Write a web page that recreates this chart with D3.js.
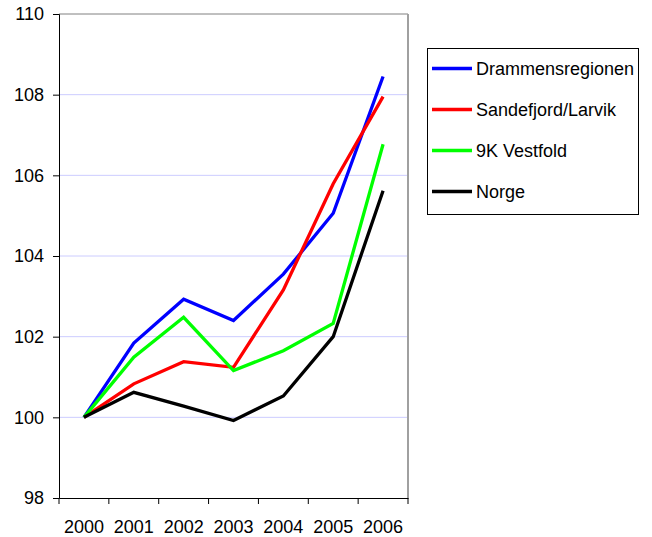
<!DOCTYPE html>
<html>
<head>
<meta charset="utf-8">
<script src="https://cdn.jsdelivr.net/npm/d3@7"></script>
<style>
  body { margin: 0; background: #fff; }
  svg { font-family: "Liberation Sans", Arial, sans-serif; }
</style>
</head>
<body>
<div id="vis-container"></div>
<script>
// Data
const years = ["2000", "2001", "2002", "2003", "2004", "2005", "2006"];
const drammen = [100, 101.84, 102.93, 102.40, 103.55, 105.06, 108.45];
const sandefjord = [100, 100.83, 101.38, 101.24, 103.16, 105.79, 107.95];
const vestfold = [100, 101.49, 102.48, 101.16, 101.65, 102.33, 106.77];
const norge = [100, 100.62, 100.28, 99.92, 100.53, 102.0, 105.62];
const seriesNames = ["Drammensregionen", "Sandefjord/Larvik", "9K Vestfold", "Norge"];
const yTicks = [98, 100, 102, 104, 106, 108, 110];

const series = [drammen, sandefjord, vestfold, norge];
const colors = ["#0000ff", "#ff0000", "#00ff00", "#000000"];

// Set margins and dimensions
const width = 652, height = 537;
const margin = { top: 14, right: 244, bottom: 39, left: 59 };
const fontSize = "18px";

const svg = d3.select("#vis-container")
  .append("svg")
  .attr("width", width)
  .attr("height", height);

const x = d3.scaleBand()
  .domain(years)
  .range([margin.left, width - margin.right]);

const y = d3.scaleLinear()
  .domain([98, 110])
  .range([height - margin.bottom, margin.top]);

// gridlines
svg.append("g")
  .selectAll("line")
  .data(yTicks.slice(1, -1))
  .enter().append("line")
  .attr("x1", margin.left).attr("x2", width - margin.right)
  .attr("y1", d => y(d)).attr("y2", d => y(d))
  .attr("stroke", "#ccccff").attr("stroke-width", 1);

// top and right border of plot area
svg.append("line")
  .attr("x1", margin.left).attr("x2", width - margin.right)
  .attr("y1", y(110)).attr("y2", y(110))
  .attr("stroke", "#808080");
svg.append("line")
  .attr("x1", width - margin.right).attr("x2", width - margin.right)
  .attr("y1", y(110)).attr("y2", y(98))
  .attr("stroke", "#a0a0a0").attr("stroke-width", 2);

// y axis
svg.append("g")
  .attr("transform", `translate(${margin.left},0)`)
  .call(d3.axisLeft(y).tickValues(yTicks).tickSize(6).tickPadding(9).tickFormat(d3.format("d")))
  .call(g => g.select(".domain").attr("stroke", "#000"))
  .call(g => g.selectAll("text").attr("font-size", fontSize).attr("fill", "#000").attr("font-family", "Liberation Sans, Arial, sans-serif"));

// x axis, ticks between categories
const xAxis = svg.append("g")
  .attr("transform", `translate(0,${height - margin.bottom})`)
  .call(d3.axisBottom(x).tickSize(0).tickPadding(22))
  .call(g => g.select(".domain").attr("stroke", "#000"))
  .call(g => g.selectAll("text").attr("font-size", fontSize).attr("fill", "#000").attr("font-family", "Liberation Sans, Arial, sans-serif"));

xAxis.selectAll(".sep")
  .data(years.concat(["end"]))
  .enter().append("line")
  .attr("x1", (d, i) => margin.left + i * x.bandwidth())
  .attr("x2", (d, i) => margin.left + i * x.bandwidth())
  .attr("y1", 0).attr("y2", 6)
  .attr("stroke", "#000");

// lines
const line = d3.line()
  .x((d, i) => x(years[i]) + x.bandwidth() / 2)
  .y(d => y(d));

svg.append("g")
  .selectAll("path")
  .data(series)
  .enter().append("path")
  .attr("d", line)
  .attr("fill", "none")
  .attr("stroke", (d, i) => colors[i])
  .attr("stroke-width", 3.3)
  .attr("stroke-linejoin", "miter");

// legend
const legend = svg.append("g");
legend.append("rect")
  .attr("x", 427.5).attr("y", 48.5)
  .attr("width", 211).attr("height", 166)
  .attr("fill", "#fff").attr("stroke", "#000");

const rows = legend.selectAll(".row")
  .data(seriesNames)
  .enter().append("g")
  .attr("transform", (d, i) => `translate(432,${68.5 + i * 41})`);

rows.append("line")
  .attr("x1", 0).attr("x2", 40)
  .attr("stroke", (d, i) => colors[i])
  .attr("stroke-width", 3.3);

rows.append("text")
  .attr("x", 44).attr("dy", "0.36em")
  .attr("font-size", fontSize)
  .text(d => d);
</script>
</body>
</html>
